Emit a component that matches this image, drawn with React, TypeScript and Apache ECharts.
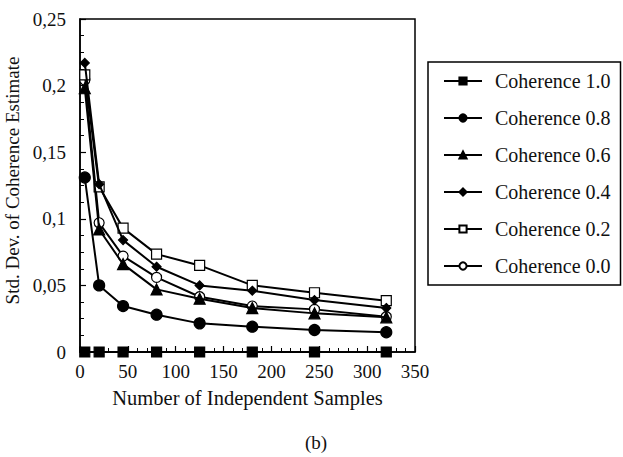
import React, { useEffect, useRef } from "react";
import * as echarts from "echarts";

const samples = [5, 20, 45, 80, 125, 180, 245, 320];
const seriesNames = [
  "Coherence 1.0",
  "Coherence 0.8",
  "Coherence 0.6",
  "Coherence 0.4",
  "Coherence 0.2",
  "Coherence 0.0",
];
const coh10 = [0, 0, 0, 0, 0, 0, 0, 0];
const coh08 = [0.131, 0.05, 0.0345, 0.028, 0.0215, 0.019, 0.0165, 0.0148];
const coh06 = [0.198, 0.092, 0.066, 0.047, 0.04, 0.033, 0.029, 0.026];
const coh04 = [0.217, 0.126, 0.084, 0.064, 0.05, 0.046, 0.039, 0.033];
const coh02 = [0.208, 0.124, 0.093, 0.0735, 0.065, 0.05, 0.0445, 0.0385];
const coh00 = [0.204, 0.097, 0.072, 0.056, 0.0415, 0.0345, 0.032, 0.0265];
const yTicks = ["0", "0,05", "0,1", "0,15", "0,2", "0,25"];

const FONT = "'Liberation Serif', 'Times New Roman', serif";

export default function App() {
  const ref = useRef<HTMLDivElement>(null);
  useEffect(() => {
    if (!ref.current) return;
    const chart = echarts.init(ref.current, undefined, { renderer: "svg" });
    const values = [coh10, coh08, coh06, coh04, coh02, coh00];
    const symbols = ["rect", "circle", "triangle", "diamond", "rect", "circle"];
    const sizes = [10, 11, 11, 9, 10, 10];
    const fills = ["#000", "#000", "#000", "#000", "#fff", "#fff"];
    const series = values.map((vals, i) => ({
      name: seriesNames[i],
      type: "line",
      data: samples.map((x, j) => [x, vals[j]]),
      symbol: symbols[i],
      symbolSize: sizes[i],
      showAllSymbol: true,
      lineStyle: { color: "#000", width: 2 },
      itemStyle: { color: fills[i], borderColor: "#000", borderWidth: 1.2 },
      z: 10 - i,
    }));
    chart.setOption({
      animation: false,
      backgroundColor: "#fff",
      textStyle: { fontFamily: FONT, color: "#111" },
      grid: {
        left: 80,
        top: 19,
        right: 208,
        bottom: 105,
        outerBoundsMode: "none",
        containLabel: false,
        show: true,
        borderColor: "#000",
        borderWidth: 1.5,
        backgroundColor: "transparent",
      },
      xAxis: {
        type: "value",
        min: 0,
        max: 350,
        interval: 50,
        name: "Number of Independent Samples",
        nameLocation: "middle",
        nameGap: 35,
        nameTextStyle: { fontFamily: FONT, fontSize: 20.5, color: "#111" },
        axisLine: { show: true, lineStyle: { color: "#000", width: 1.5 } },
        axisTick: { show: true, inside: true, length: 6, lineStyle: { color: "#000", width: 1.2 } },
        minorTick: { show: true, splitNumber: 5, length: 4, lineStyle: { color: "#000", width: 1 } },
        splitLine: { show: false },
        axisLabel: { fontFamily: FONT, fontSize: 19, color: "#111", margin: 10 },
      },
      yAxis: {
        type: "value",
        min: 0,
        max: 0.25,
        interval: 0.05,
        name: "Std. Dev. of Coherence Estimate",
        nameLocation: "middle",
        nameGap: 49,
        nameTextStyle: { fontFamily: FONT, fontSize: 19, color: "#111", padding: [0, 0, 0, 10] },
        axisLine: { show: true, lineStyle: { color: "#000", width: 1.5 } },
        axisTick: { show: true, inside: true, length: 6, lineStyle: { color: "#000", width: 1.2 } },
        minorTick: { show: true, splitNumber: 4, length: 4, lineStyle: { color: "#000", width: 1 } },
        splitLine: { show: false },
        axisLabel: {
          fontFamily: FONT,
          fontSize: 19,
          color: "#111",
          margin: 14,
          formatter: (v: number) => yTicks[Math.round(v / 0.05)] ?? String(v),
        },
      },
      legend: {
        orient: "vertical",
        left: 428,
        top: 62,
        padding: [9, 10, 9, 15],
        itemGap: 17,
        itemWidth: 38,
        itemHeight: 9,
        borderColor: "#000",
        borderWidth: 1.5,
        textStyle: { fontFamily: FONT, fontSize: 20, color: "#111", padding: [0, 0, 0, 8] },
        data: seriesNames,
      },
      graphic: [
        {
          type: "text",
          left: 305,
          top: 433,
          style: { text: "(b)", font: `19px ${FONT}`, fill: "#111" },
        },
      ],
      series,
    });
    return () => chart.dispose();
  }, []);
  return (
    <div
      ref={ref}
      style={{ position: "fixed", left: 0, top: 0, width: 623, height: 457, background: "#fff" }}
    />
  );
}
